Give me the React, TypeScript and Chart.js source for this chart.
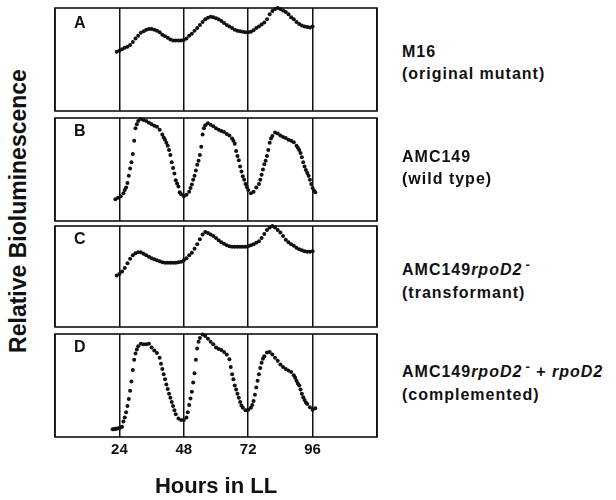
import React, { useEffect, useRef } from "react";
import { Chart, registerables } from "chart.js";
Chart.register(...registerables);

// ---------- data ----------
const HOURS_A = [23,24,25,26,27,28,29,30,31,32,33,34,35,36,37,38,39,40,41,42,43,44,45,46,47,48,49,50,51,52,53,54,55,56,57,58,59,60,61,62,63,64,65,66,67,68,69,70,71,72,73,74,75,76,77,78,79,80,81,82,83,84,85,86,87,88,89,90,91,92,93,94,95,96];
const LUM_A = [57.5,58.5,60,61.5,62.5,64,67,70.5,73,76,
  77.5,79,79.5,79.5,79,78,76.5,74,72.5,71,
  69.5,68.5,68.5,68.5,68.5,69,70.5,73,75,78,
  80.5,83.5,86.5,89,90.5,91.5,91,90,89,87.5,
  85.5,83.5,82,80.5,79,78,77.5,77,76.5,76.5,
  77,78.5,80.5,82,84,86,89,94,97,99,
  100,99,97.5,96,94,91,89,86.5,84.5,83,
  82,81.5,81,82];

const HOURS_B = [22.5,23.5,24.5,25.5,26,26.5,27,27.5,28,28.5,29,29.5,30,30.5,31,32,33,34,35,36,37,38,39,40,40.5,41,41.5,42,42.5,43,43.5,44,44.5,45,45.5,46,46.5,47,48,49,50,50.5,51,51.5,52,52.5,53,53.5,54,54.5,55,55.5,56,57,58,59,60,61,62,63,64,65,66,66.5,67,67.5,68,68.5,69,69.5,70,70.5,71,71.5,72,73,74,75,76,76.5,77,77.5,78,78.5,79,79.5,80,80.5,81,82,83,84,85,86,87,88,89,90,90.5,91,91.5,92,92.5,93,93.5,94,94.5,95,95.5,96,96.5,97];
const LUM_B = [21,22.5,24,27,30,32.5,37,44,51,57,65,78,90,94,97,99,98,97,95.5,94,92.5,91.5,88.5,84,81,79,76,73,69,64,57,51.5,46,39.5,36.5,33.5,28,26,24,25.5,28.5,32,35.5,40,44,49,54.5,58.5,64,72,84,90,93,95,93.5,92,90,88.5,87.5,86.5,84.5,83,80,78,75,68,63,59,53,48,43.5,40,36,33,30,27,28.5,32.5,36,40,45,50,55,58.5,63,69,76,80,82.5,86,85,83,81.5,80.5,79,78,76.5,73,71,69,66,62,57,53,49.5,46.5,44,40,36,32,29.5,28];

const HOURS_C = [23,24,25,26,27,28,29,30,31,32,33,34,35,36,37,38,39,40,41,42,43,44,45,46,47,48,49,50,51,52,53,54,55,56,57,58,59,60,61,62,63,64,65,66,67,68,69,70,71,72,73,74,75,76,77,78,79,80,81,82,83,84,85,86,87,88,89,90,91,92,93,94,95,96];
const LUM_C = [51,52.5,55,58.5,63,67.5,71,73,74,74,
  72.5,71,69.5,68,67,66,65,64,63.5,63.5,
  63.5,63.5,63.5,64,64.5,66,68,71,73.5,77.5,
  82,87,91.5,94,93,91.5,90,88,86,84,
  82.5,81,80,79.5,79.5,79.5,79.5,79.5,79.5,80,
  81,82,83.5,85,88,92,96,98.5,100,98.5,
  96,93.5,90,86.5,84,82,80.5,78.5,77,76,
  75,74.5,74.5,75];

const HOURS_D = [21.5,22,22.5,23,23.5,24,24.5,25,25.5,26,26.5,27,27.5,28,28.5,29,29.5,30,30.5,31,32,33,34,35,36,37,38,39,39.5,40,40.5,41,41.5,42,42.5,43,43.5,44,44.5,45,46,47,48,49,49.5,50,50.5,51,51.5,52,52.5,53,53.5,54,55,56,57,58,59,60,61,62,63,64,65,65.5,66,66.5,67,67.5,68,68.5,69,69.5,70,71,72,73,73.5,74,74.5,75,75.5,76,76.5,77,77.5,78,79,80,81,82,83,84,85,86,87,88,89,89.5,90,90.5,91,91.5,92,92.5,93,93.5,94,95,96,97];
const LUM_D = [7.5,7.5,8,8,8.5,8.5,9.5,10,15,19,24,30,37,45,54,65,75,81,85,88,90.5,90,90,90.5,87,84,81.5,77,71,66,61,56,51,46.5,42,38,34,30,26,22,18,16.5,16.5,19,24,31,37.5,44,53,62,75,86,92.5,96,99.5,98,95.5,92.5,90,87,85.5,84.5,82.5,80,75.5,68,61,56,50,46,42,38,34,30.5,28.5,26,26.5,28.5,31,35,41,48,54.5,61,67,72,76,78.5,82,82.5,80,77,74,70.5,68,66,64.5,63,60,57.5,54.5,52,50,46,42,38.5,36,33.5,32,29,26.5,28];

const X_TICKS = [24, 48, 72, 96];
const PANEL_LETTERS = ["A", "B", "C", "D"];
const Y_TITLE = "Relative Bioluminescence";
const X_TITLE = "Hours in LL";

const SERIES = [
  { hours: HOURS_A, lum: LUM_A },
  { hours: HOURS_B, lum: LUM_B },
  { hours: HOURS_C, lum: LUM_C },
  { hours: HOURS_D, lum: LUM_D },
];

// ---------- layout ----------
const FONT = '"Liberation Sans", Arial, Helvetica, sans-serif';
const BOX_LEFT = 54;
const BOX_RIGHT = 378;
const PANELS = [
  { top: 7, bottom: 112 },
  { top: 117, bottom: 222 },
  { top: 225, bottom: 328 },
  { top: 333, bottom: 437 },
];
const PAD = 3;
const PAGE_H = 500;
const INK = "#111";

const boxPlugin = {
  id: "panelBox",
  afterDraw(chart: any) {
    const { ctx, chartArea: a } = chart;
    ctx.save();
    ctx.strokeStyle = INK;
    ctx.lineWidth = 1.6;
    ctx.strokeRect(a.left, a.top, a.right - a.left, a.bottom - a.top);
    ctx.restore();
  },
};

function canvasGeom(i: number) {
  const p = PANELS[i];
  const last = i === PANELS.length - 1;
  const top = p.top - PAD;
  const height = last ? PAGE_H - top : p.bottom - p.top + 2 * PAD;
  return { left: BOX_LEFT - PAD, top, width: BOX_RIGHT - BOX_LEFT + 2 * PAD, height, last };
}

export default function App() {
  const refs = [useRef<HTMLCanvasElement>(null), useRef<HTMLCanvasElement>(null), useRef<HTMLCanvasElement>(null), useRef<HTMLCanvasElement>(null)];

  useEffect(() => {
    const charts: Chart[] = [];
    SERIES.forEach((s, i) => {
      const cv = refs[i].current;
      if (!cv) return;
      const g = canvasGeom(i);
      const axisH = g.last ? PAGE_H - PANELS[i].bottom : 0;
      const chart = new Chart(cv, {
        type: "scatter",
        data: {
          datasets: [
            {
              data: s.hours.map((h, k) => ({ x: h, y: s.lum[k] })),
              pointRadius: 2,
              pointBackgroundColor: INK,
              pointBorderWidth: 0,
              showLine: false,
              clip: false as any,
            },
          ],
        },
        options: {
          animation: false,
          responsive: false,
          events: [],
          layout: { padding: { left: PAD, right: PAD, top: PAD, bottom: g.last ? 0 : PAD } },
          plugins: { legend: { display: false }, tooltip: { enabled: false } },
          scales: {
            x: {
              type: "linear",
              min: 0,
              max: 120,
              afterFit: (sc: any) => {
                sc.height = axisH;
              },
              ticks: {
                display: g.last,
                stepSize: 24,
                color: INK,
                padding: 4,
                maxRotation: 0,
                font: { family: FONT, size: 15, weight: "bold" },
                callback: (v: any) => (X_TICKS.includes(Number(v)) ? String(v) : ""),
              },
              grid: { color: INK, lineWidth: 1.5, drawTicks: false },
              border: { display: false },
              title: {
                display: g.last,
                text: X_TITLE,
                color: INK,
                padding: { top: 0, bottom: 0 },
                font: { family: FONT, size: 22, weight: "bold" },
              },
            },
            y: { min: 0, max: 100, display: false },
          },
        },
        plugins: [boxPlugin],
      });
      charts.push(chart);
    });
    return () => charts.forEach((c) => c.destroy());
  }, []);

  const labelStyle: React.CSSProperties = {
    position: "absolute",
    left: 402,
    font: `bold 16px ${FONT}`,
    lineHeight: "22px",
    letterSpacing: "1px",
    color: INK,
    whiteSpace: "nowrap",
  };
  const sup: React.CSSProperties = { position: "relative", top: -6, fontSize: 13, marginLeft: 3 };
  const letterTops = [15, 123, 231, 339];
  const labelTops = [40.5, 146, 258.5, 360.5];

  return (
    <div style={{ position: "absolute", left: 0, top: 0, width: 616, height: 500, background: "#fff", overflow: "hidden" }}>
      {SERIES.map((_, i) => {
        const g = canvasGeom(i);
        return (
          <canvas
            key={i}
            ref={refs[i]}
            width={g.width}
            height={g.height}
            style={{ position: "absolute", left: g.left, top: g.top, width: g.width, height: g.height }}
          />
        );
      })}
      {PANEL_LETTERS.map((L, i) => (
        <div key={L} style={{ position: "absolute", left: 74, top: letterTops[i], font: `bold 16px ${FONT}`, lineHeight: "16px", color: INK }}>
          {L}
        </div>
      ))}
      <div
        style={{
          position: "absolute",
          left: 17.5,
          top: 210.5,
          transform: "translate(-50%, -50%) rotate(-90deg)",
          font: `bold 23px ${FONT}`,
          lineHeight: "23px",
          whiteSpace: "nowrap",
          color: INK,
        }}
      >
        {Y_TITLE}
      </div>
      <div style={{ ...labelStyle, top: labelTops[0] }}>
        M16
        <br />
        (original mutant)
      </div>
      <div style={{ ...labelStyle, top: labelTops[1] }}>
        AMC149
        <br />
        (wild type)
      </div>
      <div style={{ ...labelStyle, top: labelTops[2] }}>
        AMC149<i>rpoD2</i>
        <span style={sup}>-</span>
        <br />
        (transformant)
      </div>
      <div style={{ ...labelStyle, top: labelTops[3] }}>
        AMC149<i>rpoD2</i>
        <span style={sup}>-</span> + <i>rpoD2</i>
        <br />
        (complemented)
      </div>
    </div>
  );
}
